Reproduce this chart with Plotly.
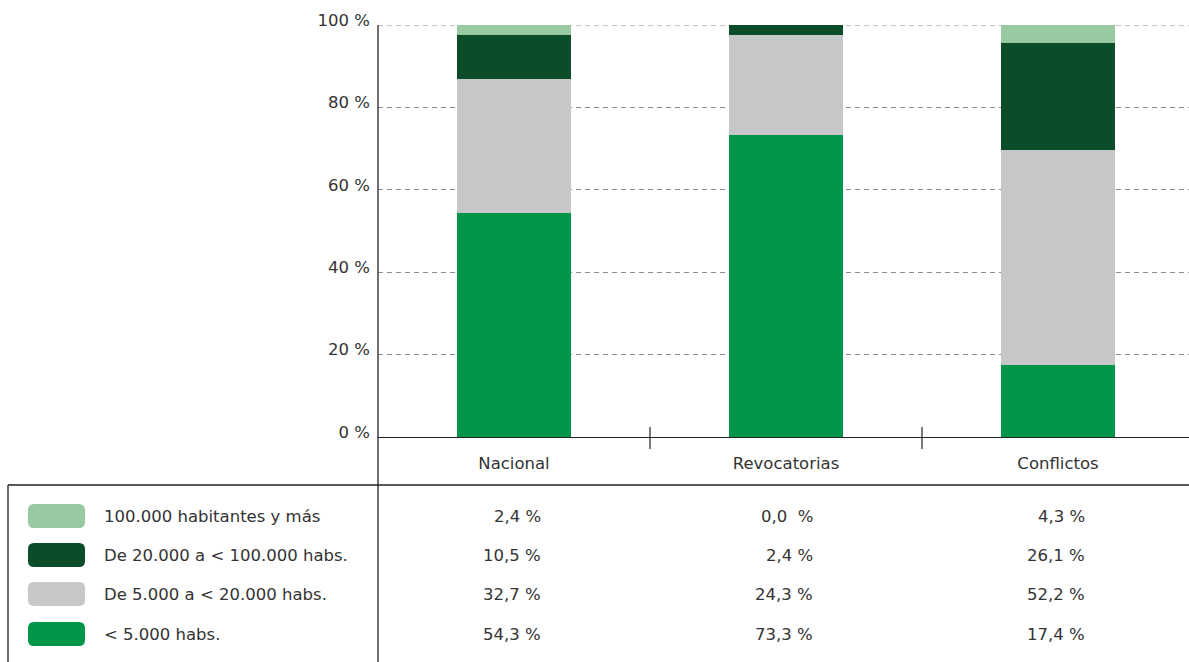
import plotly.graph_objects as go

categories = ["Nacional", "Revocatorias", "Conflictos"]
series_names = ["< 5.000 habs.", "De 5.000 a < 20.000 habs.",
                "De 20.000 a < 100.000 habs.", "100.000 habitantes y más"]
v_small = [54.3, 73.3, 17.4]
v_mid = [32.7, 24.3, 52.2]
v_large = [10.5, 2.4, 26.1]
v_xl = [2.4, 0.0, 4.3]
colors = ["#009649", "#c6c7c8", "#0b4d28", "#98c9a3"]
table_labels = [
    ["2,4 %", "0,0  %", "4,3 %"],
    ["10,5 %", "2,4 %", "26,1 %"],
    ["32,7 %", "24,3 %", "52,2 %"],
    ["54,3 %", "73,3 %", "17,4 %"],
]
y_ticks = [0, 20, 40, 60, 80, 100]
y_ticktext = ["0 %", "20 %", "40 %", "60 %", "80 %", "100 %"]

W, H = 1189, 662
L, T, B = 378, 25, 225
PW, PH = W - L, H - T - B

def px(x):
    return (x - L) / PW

def py(y):
    return (H - B - y) / PH

FONT = "DejaVu Sans"
FS = 16.5
TXT = "#333333"
DASH = "5px,4px"

values = [v_small, v_mid, v_large, v_xl]
fig = go.Figure()
for name, vals, col in zip(series_names, values, colors):
    fig.add_trace(go.Bar(x=categories, y=vals, name=name, marker_color=col,
                         marker_line_width=0, width=0.42, showlegend=False))

shapes = []
# top gridline
shapes.append(dict(type="line", xref="paper", yref="y", x0=0, x1=1, y0=100, y1=100,
                   line=dict(color="#8c8c8c", width=1, dash=DASH), layer="below"))
# y axis line extended to bottom
shapes.append(dict(type="line", xref="paper", yref="paper", x0=0, x1=0,
                   y0=1, y1=py(662), line=dict(color="#222", width=1.3), layer="above"))
# horizontal line under category labels
shapes.append(dict(type="line", xref="paper", yref="paper", x0=px(8), x1=1,
                   y0=py(485), y1=py(485), line=dict(color="#222", width=1.3)))
# left vertical line of table
shapes.append(dict(type="line", xref="paper", yref="paper", x0=px(8), x1=px(8),
                   y0=py(485), y1=py(662), line=dict(color="#222", width=1.3)))
# category boundary ticks
for b in [0.5, 1.5]:
    shapes.append(dict(type="line", xref="x", yref="paper", x0=b, x1=b,
                       y0=py(427), y1=py(449), line=dict(color="#222", width=1.2)))

rows_y = [516, 555, 594, 634]
legend_order = [3, 2, 1, 0]
r = 6
for ry, si in zip(rows_y, legend_order):
    x0, x1, y0, y1 = 28, 85, ry - 12, ry + 12
    pts = [
        (x0 + r, y0), (x1 - r, y0), ("Q", x1, y0, x1, y0 + r), (x1, y1 - r),
        ("Q", x1, y1, x1 - r, y1), (x0 + r, y1), ("Q", x0, y1, x0, y1 - r),
        (x0, y0 + r), ("Q", x0, y0, x0 + r, y0),
    ]
    path = "M %f,%f" % (px(pts[0][0]), py(pts[0][1]))
    for p in pts[1:]:
        if p[0] == "Q":
            path += " Q %f,%f %f,%f" % (px(p[1]), py(p[2]), px(p[3]), py(p[4]))
        else:
            path += " L %f,%f" % (px(p[0]), py(p[1]))
    path += " Z"
    shapes.append(dict(type="path", xref="paper", yref="paper", path=path,
                       fillcolor=colors[si], line=dict(width=0)))

annotations = []
for ry, si, labels in zip(rows_y, legend_order, table_labels):
    annotations.append(dict(xref="paper", yref="paper", x=px(102), y=py(ry),
                            text=series_names[si], showarrow=False, xanchor="left",
                            yanchor="middle", font=dict(family=FONT, size=FS, color=TXT)))
    for ci, lab in enumerate(labels):
        annotations.append(dict(xref="x", yref="paper", x=ci, y=py(ry), text=lab,
                                showarrow=False, xanchor="right", yanchor="middle",
                                xshift=29, font=dict(family=FONT, size=FS, color=TXT)))

fig.update_layout(
    width=W, height=H, barmode="stack",
    margin=dict(l=L, r=0, t=T, b=B, pad=0),
    plot_bgcolor="white", paper_bgcolor="white",
    font=dict(family=FONT, size=FS, color=TXT),
    shapes=shapes, annotations=annotations,
    xaxis=dict(range=[-0.5, -0.5 + PW / 272.0], showgrid=False, showline=True,
               linecolor="#222", linewidth=1.3, ticks="", ticklabelstandoff=11,
               tickfont=dict(family=FONT, size=FS, color=TXT), zeroline=False),
    yaxis=dict(range=[0, 100], tickvals=y_ticks, ticktext=y_ticktext,
               showgrid=True, gridcolor="#8c8c8c", griddash=DASH, gridwidth=1,
               showline=False, zeroline=False, ticks="", ticklabelstandoff=7,
               ticklabelshift=-5, tickfont=dict(family=FONT, size=FS, color=TXT)),
)
fig.write_html("out.html")
